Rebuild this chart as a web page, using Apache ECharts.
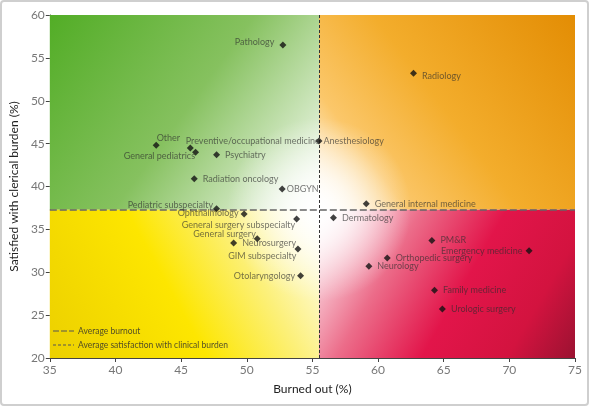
<!DOCTYPE html>
<html>
<head>
<meta charset="utf-8">
<script src="https://cdn.jsdelivr.net/npm/echarts@6/dist/echarts.min.js"></script>
<style>
  html, body { margin: 0; padding: 0; background: #fff; }
  #chart { width: 591px; height: 409px; }
</style>
</head>
<body>
<div id="chart"></div>
<script>
// specialties, burnout (%) and satisfaction with clerical burden (%)
var specialties = [
  'Pathology', 'Radiology', 'Other', 'Preventive/occupational medicine', 'General pediatrics',
  'Psychiatry', 'Anesthesiology', 'Radiation oncology', 'OBGYN', 'General internal medicine',
  'Pediatric subspecialty', 'Ophthalmology', 'Dermatology', 'General surgery subspecialty',
  'General surgery', 'Neurosurgery', 'GIM subspecialty', 'Otolaryngology', 'PM&R',
  'Emergency medicine', 'Orthopedic surgery', 'Neurology', 'Family medicine', 'Urologic surgery'
];
var burnedOut = [
  52.75, 62.7, 43.1, 45.7, 46.1,
  47.7, 55.5, 46.0, 52.7, 59.1,
  47.7, 49.8, 56.6, 53.8,
  50.8, 49.0, 53.9, 54.1, 64.1,
  71.5, 60.7, 59.3, 64.3, 64.9
];
var satisfied = [
  56.5, 53.2, 44.8, 44.5, 44.0,
  43.7, 45.3, 40.9, 39.7, 38.0,
  37.4, 36.8, 36.35, 36.2,
  33.9, 33.4, 32.7, 29.6, 33.7,
  32.5, 31.65, 30.7, 27.9, 25.7
];
var avgBurnout = 55.5;
var avgSatisfaction = 37.3;

// label placement per specialty (default: right)
var labelPlace = {
  'Pathology': { position: 'left', offset: [0, -3] },
  'Radiology': { position: 'right', offset: [0, 3] },
  'Other': { position: 'right', offset: [-8, -7] },
  'Preventive/occupational medicine': { position: 'right', offset: [-13, -7] },
  'General pediatrics': { position: 'left', offset: [8, 4] },
  'Anesthesiology': { position: 'right', distance: 1 },
  'OBGYN': { position: 'right', distance: 1 },
  'Pediatric subspecialty': { position: 'left', offset: [5, -4] },
  'Ophthalmology': { position: 'left', distance: 2, offset: [0, -1] },
  'General surgery subspecialty': { position: 'left', offset: [7, 6] },
  'General surgery': { position: 'left', offset: [7, -5] },
  'GIM subspecialty': { position: 'left', offset: [7, 7] },
  'Otolaryngology': { position: 'left', distance: 2 },
  'Emergency medicine': { position: 'left', distance: 3 }
};

var labelColor = 'rgba(45,45,45,0.82)';
var labelFont = 'Lato, "Open Sans", sans-serif';
var points = specialties.map(function (name, i) {
  var p = labelPlace[name] || { position: 'right' };
  return {
    name: name,
    value: [burnedOut[i], satisfied[i]],
    label: {
      show: true,
      formatter: name,
      position: p.position,
      distance: p.distance != null ? p.distance : 5,
      offset: p.offset || [0, 0]
    }
  };
});

function lin(x, y, x2, y2, stops) {
  return new echarts.graphic.LinearGradient(x, y, x2, y2, stops.map(function (s) {
    return { offset: s[0], color: s[1] };
  }));
}

var quadrants = [
  [{ xAxis: 35, yAxis: 60, itemStyle: { color: lin(0, 0, 1, 1, [[0, '#52ad26'], [0.5, '#86c15f'], [0.82, '#d2e8c3'], [1, '#ffffff']]) } },
   { xAxis: avgBurnout, yAxis: avgSatisfaction }],
  [{ xAxis: avgBurnout, yAxis: 60, itemStyle: { color: lin(0, 1, 1, 0, [[0, '#ffffff'], [0.22, '#fbc76a'], [0.5, '#f3ad2c'], [1, '#e38d04']]) } },
   { xAxis: 75, yAxis: avgSatisfaction }],
  [{ xAxis: 35, yAxis: avgSatisfaction, itemStyle: { color: lin(1, 0, 0, 1, [[0, '#ffffff'], [0.28, '#fcf07a'], [0.55, '#fde600'], [1, '#ecd000']]) } },
   { xAxis: avgBurnout, yAxis: 20 }],
  [{ xAxis: avgBurnout, yAxis: avgSatisfaction, itemStyle: { color: lin(0, 0, 1, 1, [[0, '#ffffff'], [0.3, '#ec6d8a'], [0.55, '#e2154a'], [0.8, '#d3133f'], [1, '#9b1231']]) } },
   { xAxis: 75, yAxis: 20 }]
];

var glowW = 7, glowH = 10.8;
var glow = [[
  { xAxis: avgBurnout - glowW, yAxis: avgSatisfaction - glowH,
    itemStyle: { color: new echarts.graphic.RadialGradient(0.5, 0.5, 0.5, [
      { offset: 0, color: 'rgba(255,255,255,1)' },
      { offset: 0.35, color: 'rgba(255,255,255,0.7)' },
      { offset: 1, color: 'rgba(255,255,255,0)' }
    ]) } },
  { xAxis: avgBurnout + glowW, yAxis: avgSatisfaction + glowH }
]];

var chart = echarts.init(document.getElementById('chart'), null, { renderer: 'canvas' });
var axisFont = 'Lato, "Open Sans", sans-serif';

chart.setOption({
  backgroundColor: '#ffffff',
  animation: false,
  textStyle: { fontFamily: axisFont },
  graphic: [
    { type: 'rect', shape: { x: 1, y: 1, width: 587, height: 404, r: 3 },
      style: { fill: 'none', stroke: '#cfcfcf', lineWidth: 2 }, z: 0 },
    // legend inside the plot
    { type: 'line', shape: { x1: 53, y1: 331, x2: 74, y2: 331 },
      style: { stroke: '#555', lineWidth: 1, lineDash: [6, 2] }, z: 20 },
    { type: 'text', x: 78, y: 331, style: { text: 'Average burnout', fill: labelColor, font: '8.5px ' + labelFont, verticalAlign: 'middle' }, z: 20 },
    { type: 'line', shape: { x1: 53, y1: 345, x2: 74, y2: 345 },
      style: { stroke: '#555', lineWidth: 1, lineDash: [3, 2] }, z: 20 },
    { type: 'text', x: 78, y: 345, style: { text: 'Average satisfaction with clinical burden', fill: labelColor, font: '8.5px ' + labelFont, verticalAlign: 'middle' }, z: 20 }
  ],
  grid: { left: 47, right: 16, top: 15, bottom: 51 },
  xAxis: {
    type: 'value', min: 35, max: 75, interval: 5,
    name: 'Burned out (%)', nameLocation: 'middle', nameGap: 25,
    nameTextStyle: { color: '#222', fontSize: 12 },
    axisLine: { show: true, onZero: false, lineStyle: { color: '#444' } },
    axisTick: { show: true, length: 4, lineStyle: { color: '#444' } },
    axisLabel: { color: '#777', fontSize: 12, margin: 6 },
    splitLine: { show: false }
  },
  yAxis: {
    type: 'value', min: 20, max: 60, interval: 5,
    name: 'Satisfied with clerical burden (%)', nameLocation: 'middle', nameGap: 22,
    nameTextStyle: { color: '#222', fontSize: 12 },
    axisLine: { show: true, onZero: false, lineStyle: { color: '#444' } },
    axisTick: { show: true, length: 4, lineStyle: { color: '#444' } },
    axisLabel: { color: '#777', fontSize: 12, margin: 5 },
    splitLine: { show: false }
  },
  series: [
    {
      type: 'scatter', data: [], z: 1,
      markArea: { silent: true, data: quadrants }
    },
    {
      type: 'scatter', data: [], z: 2,
      markArea: { silent: true, data: glow, itemStyle: { borderWidth: 0 } }
    },
    {
      type: 'scatter', data: [], z: 3,
      markLine: {
        silent: true, symbol: 'none', label: { show: false },
        data: [
          { xAxis: avgBurnout, lineStyle: { color: '#333', type: [3, 2], width: 1 } },
          { yAxis: avgSatisfaction, lineStyle: { color: '#666', type: [7, 3], width: 1.5 } }
        ]
      }
    },
    {
      type: 'scatter', z: 10,
      symbol: 'diamond', symbolSize: 7,
      itemStyle: { color: '#111' },
      label: { color: labelColor, fontSize: 9, fontFamily: labelFont },
      data: points
    }
  ]
});
</script>
</body>
</html>
